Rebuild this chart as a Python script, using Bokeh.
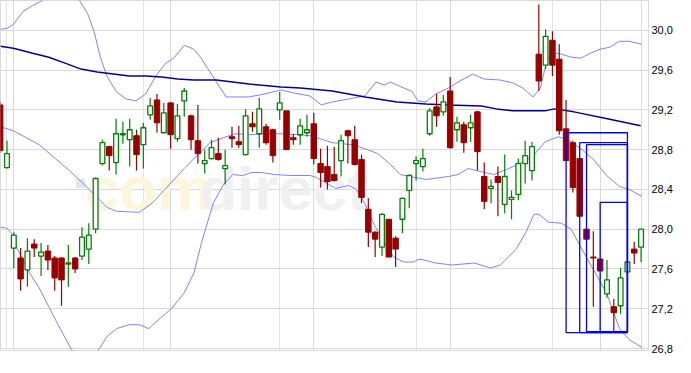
from bokeh.plotting import figure
from bokeh.models import Range1d, FixedTicker, Grid, CustomJSTickFormatter, ColumnDataSource
from bokeh.core.properties import value
from bokeh.embed import file_html
from bokeh.resources import INLINE

# ---------------- data ----------------
idx = list(range(-1, 94))
opens = [29.25, 28.62, 27.81, 27.71, 27.59, 27.85, 27.73, 27.78, 27.71, 27.71,
         27.65, 27.71, 27.73, 27.80, 28.00, 28.66, 28.83, 28.67, 28.95, 28.90,
         28.94, 28.85, 29.15, 29.30, 28.97, 29.27, 28.91, 29.29, 29.14, 28.89,
         28.66, 28.71, 28.76, 28.61, 28.93, 28.88, 28.75, 29.06, 28.96, 29.03,
         29.00, 29.20, 29.19, 28.92, 28.95, 28.97, 29.06, 28.66, 28.63, 28.55,
         28.69, 28.99, 28.90, 28.70, 28.20, 27.97, 27.82, 28.10, 27.91, 28.10,
         28.39, 28.66, 28.63, 28.96, 29.23, 29.18, 29.39, 29.00, 29.05, 29.02,
         29.18, 28.53, 28.41, 28.53, 28.25, 28.30, 28.35, 28.66, 28.59, 29.76,
         29.65, 29.90, 29.71, 29.01, 28.87, 28.71, 28.00, 27.72, 27.70, 27.35,
         27.22, 27.23, 27.57, 27.80, 27.82]
highs = [29.28, 28.89, 27.97, 27.81, 27.91, 27.90, 27.86, 27.84, 27.73, 27.72,
         27.84, 27.72, 28.02, 28.06, 28.52, 28.90, 28.84, 29.11, 29.08, 29.11,
         29.00, 29.07, 29.32, 29.36, 29.27, 29.28, 29.26, 29.42, 29.15, 29.25,
         28.80, 28.90, 28.92, 28.80, 29.03, 29.04, 29.21, 29.18, 29.32, 29.06,
         29.01, 29.38, 29.19, 28.96, 29.11, 29.15, 29.17, 28.81, 28.84, 28.83,
         28.95, 29.00, 29.04, 28.75, 28.31, 27.98, 28.16, 28.10, 27.93, 28.32,
         28.55, 28.73, 28.81, 29.22, 29.36, 29.35, 29.53, 29.13, 29.08, 29.15,
         29.19, 28.67, 28.50, 28.63, 28.75, 28.39, 28.71, 28.89, 28.88, 30.26,
         30.01, 29.99, 29.86, 29.30, 28.89, 28.71, 28.01, 27.98, 27.70, 27.69,
         27.30, 27.61, 27.68, 27.87, 28.00]
lows = [28.77, 28.61, 27.61, 27.38, 27.42, 27.72, 27.53, 27.59, 27.38, 27.23,
        27.42, 27.56, 27.69, 27.65, 27.96, 28.64, 28.59, 28.55, 28.86, 28.63,
        28.59, 28.61, 29.10, 28.97, 28.97, 28.81, 28.88, 29.13, 28.80, 28.66,
        28.56, 28.70, 28.69, 28.45, 28.82, 28.82, 28.74, 28.98, 28.82, 28.85,
        28.67, 29.10, 28.80, 28.85, 28.85, 28.93, 28.65, 28.42, 28.40, 28.48,
        28.53, 28.66, 28.64, 28.26, 27.82, 27.72, 27.73, 27.72, 27.62, 27.96,
        28.21, 28.49, 28.58, 28.94, 29.03, 29.14, 28.81, 28.88, 28.77, 28.88,
        28.59, 28.20, 28.26, 28.13, 28.16, 28.10, 28.29, 28.46, 28.49, 29.39,
        29.61, 29.54, 28.95, 28.69, 28.37, 28.13, 27.90, 27.22, 27.58, 27.31,
        26.97, 27.15, 27.57, 27.65, 27.67]
closes = [28.79, 28.76, 27.94, 27.50, 27.78, 27.81, 27.77, 27.69, 27.51, 27.49,
          27.66, 27.60, 27.92, 27.94, 28.51, 28.87, 28.74, 28.96, 28.96, 29.00,
          28.75, 29.02, 29.24, 29.07, 29.17, 28.95, 29.14, 29.39, 28.90, 28.76,
          28.69, 28.82, 28.70, 28.64, 28.91, 28.85, 29.14, 29.03, 29.21, 28.87,
          28.74, 29.27, 28.80, 28.90, 29.04, 29.00, 28.71, 28.57, 28.48, 28.49,
          28.89, 28.94, 28.65, 28.32, 27.97, 27.90, 28.15, 27.72, 27.80, 28.31,
          28.54, 28.69, 28.71, 29.19, 29.14, 29.28, 28.82, 29.07, 28.87, 29.07,
          28.78, 28.28, 28.43, 28.47, 28.53, 28.32, 28.66, 28.74, 28.83, 29.49,
          29.94, 29.65, 28.99, 28.69, 28.42, 28.13, 27.90, 27.71, 27.58, 27.49,
          27.16, 27.51, 27.67, 27.76, 28.00]

# Bollinger upper band (index, price)
upper_x = [-0.95, 0.0, 0.94, 2.35, 3.77, 5.19, 7.84, 10.64, 11.82, 12.77, 13.70, 14.65,
           16.07, 17.49, 18.91, 20.33, 21.74, 23.16, 24.58, 26.00, 27.42, 28.37, 30.72,
           32.14, 35.46, 37.82, 40.18, 42.07, 44.44, 46.10, 47.74, 50.11, 52.48, 54.13,
           55.32, 56.26, 58.16, 59.33, 60.28, 61.46, 62.88, 64.77, 66.67, 68.31, 69.97,
           72.34, 74.23, 75.65, 77.16, 78.24, 79.09, 79.90, 81.32, 82.74, 84.16, 85.57,
           86.99, 88.41, 89.83, 91.25, 93.13]
upper_y = [30.01, 30.02, 30.06, 30.19, 30.25, 30.30, 30.41, 30.30, 30.17, 29.99, 29.73, 29.54,
           29.38, 29.31, 29.29, 29.36, 29.53, 29.66, 29.73, 29.85, 29.81, 29.73, 29.48,
           29.33, 29.33, 29.36, 29.40, 29.37, 29.34, 29.25, 29.28, 29.31, 29.34, 29.48,
           29.45, 29.48, 29.42, 29.39, 29.29, 29.28, 29.36, 29.42, 29.50, 29.56, 29.51,
           29.50, 29.47, 29.42, 29.33, 29.42, 29.67, 29.78, 29.76, 29.73, 29.72, 29.77,
           29.81, 29.83, 29.89, 29.89, 29.86]

# Bollinger middle band (20-day average)
mid_x = [-0.95, 0.94, 4.72, 7.09, 8.98, 10.87, 12.77, 14.65, 16.07, 19.38, 21.28, 23.16,
         25.05, 26.00, 27.42, 29.79, 32.14, 33.56, 35.46, 37.82, 40.18, 42.55, 44.44,
         47.74, 50.58, 52.48, 54.37, 56.26, 57.67, 59.09, 61.46, 64.77, 66.18, 67.60,
         69.50, 71.39, 73.28, 75.18, 77.06, 78.95, 80.85, 82.27, 84.16, 86.04, 87.94,
         89.83, 91.25, 93.13]
mid_y = [29.03, 28.99, 28.85, 28.71, 28.60, 28.48, 28.35, 28.22, 28.18, 28.17, 28.26, 28.40,
         28.54, 28.61, 28.71, 28.87, 28.93, 28.96, 28.95, 28.96, 28.96, 28.95, 28.94,
         28.87, 28.85, 28.81, 28.76, 28.65, 28.55, 28.53, 28.50, 28.53, 28.55, 28.61,
         28.58, 28.55, 28.60, 28.66, 28.73, 28.88, 28.93, 28.90, 28.81, 28.70, 28.54,
         28.43, 28.40, 28.33]

# Bollinger lower band
lower_x = [-0.95, 0.0, 0.94, 1.32, 3.30, 4.72, 6.14, 7.56, 9.45, 11.39, 13.48, 14.65, 16.07,
           17.96, 19.38, 20.79, 22.21, 24.11, 26.00, 27.42, 28.55, 30.26, 31.67, 33.09,
           34.51, 35.93, 37.35, 39.23, 41.60, 44.44, 45.39, 48.23, 50.11, 51.25, 52.48,
           53.90, 55.32, 56.74, 58.16, 59.57, 60.51, 62.88, 65.25, 68.55, 70.92, 72.34,
           74.70, 76.11, 77.30, 78.01, 79.43, 81.32, 82.74, 84.16, 86.04, 87.94, 89.83,
           91.25, 93.13]
lower_y = [28.02, 28.01, 27.94, 27.83, 27.56, 27.41, 27.22, 27.03, 26.79, 26.67, 26.79, 26.92, 27.00,
           27.04, 27.04, 27.00, 27.09, 27.20, 27.36, 27.56, 27.87, 28.26, 28.44, 28.55,
           28.54, 28.57, 28.57, 28.55, 28.54, 28.54, 28.52, 28.41, 28.44, 28.40, 28.26,
           28.04, 27.87, 27.72, 27.67, 27.67, 27.70, 27.66, 27.64, 27.66, 27.61, 27.64,
           27.80, 27.97, 28.15, 28.15, 28.07, 28.06, 28.00, 27.82, 27.59, 27.36, 27.00,
           26.89, 26.81]

# long moving average
ma_x = [-0.95, 0.94, 3.77, 6.14, 8.51, 10.87, 13.23, 15.60, 17.96, 20.33, 22.70, 25.05,
        27.42, 30.68, 35.50, 40.18, 43.02, 47.70, 52.52, 57.21, 61.46, 64.72, 69.55,
        71.82, 74.23, 78.91, 80.33, 83.16, 88.04, 92.95]
ma_y = [29.84, 29.82, 29.77, 29.73, 29.67, 29.61, 29.58, 29.56, 29.54, 29.54, 29.53, 29.51,
        29.50, 29.50, 29.46, 29.43, 29.42, 29.39, 29.33, 29.28, 29.26, 29.25, 29.24,
        29.21, 29.19, 29.19, 29.21, 29.18, 29.11, 29.04]

# blue boxes (start index, end index, top, bottom)
box_start = [82, 84, 85, 87]
box_end = [91, 91, 91, 91]
box_top = [28.97, 28.87, 28.85, 28.27]
box_bottom = [26.96, 26.96, 26.97, 26.97]

y_ticks = [26.8, 27.2, 27.6, 28.0, 28.4, 28.8, 29.2, 29.6, 30.0]
month_ticks = [1, 24, 45, 65, 87, 93]

# ---------------- styles ----------------
RED = "#990000"
GREEN = "#008000"
BAND = "#8080ff"
NAVY = "#000099"
BOX = "#0000ff"
GRID = "#d9d9d9"

p = figure(width=675, height=357, output_backend="svg", toolbar_location=None,
           x_range=Range1d(-0.95, 94.09), y_range=Range1d(26.78, 30.30),
           x_axis_location=None, y_axis_location="right",
           min_border_left=0, min_border_top=0, min_border_bottom=7, min_border_right=0)
p.background_fill_color = "white"
p.border_fill_color = "white"
p.outline_line_color = GRID

p.yaxis.ticker = FixedTicker(ticks=y_ticks)
p.yaxis.formatter = CustomJSTickFormatter(code="return tick.toFixed(1).replace('.', ',');")
p.yaxis.axis_line_color = None
p.yaxis.major_tick_line_color = None
p.yaxis.minor_tick_line_color = None
p.yaxis.major_tick_out = 0
p.yaxis.major_label_standoff = 3
p.yaxis.major_label_text_font = "Liberation Sans"
p.yaxis.major_label_text_font_size = "11px"
p.yaxis.major_label_text_color = "black"
p.ygrid.grid_line_color = GRID
p.add_layout(Grid(dimension=0, ticker=FixedTicker(ticks=month_ticks), grid_line_color=GRID))

# watermark
wm_x_com, wm_x_direct, wm_y = 11.4, 28.2, 28.41
p.rect(x=[10.8], y=[28.46], width=1.4, height=0.095, fill_color="#e6e6e6", line_color=None)
p.text(x=[wm_x_com], y=[wm_y], text=["com"], text_font=value("Liberation Sans"),
       text_font_style="bold", text_font_size="62px", text_color="#fff5da",
       text_baseline="alphabetic")
p.text(x=[wm_x_direct], y=[wm_y], text=["direct"], text_font=value("Liberation Sans"),
       text_font_style="bold", text_font_size="62px", text_color="#f0f0f0",
       text_baseline="alphabetic")

# indicator lines
p.line(upper_x, upper_y, line_color=BAND, line_width=1)
p.line(mid_x, mid_y, line_color=BAND, line_width=1)
p.line(lower_x, lower_y, line_color=BAND, line_width=1)
p.line(ma_x, ma_y, line_color=NAVY, line_width=1.5)

# candles
up = dict(x=[], o=[], h=[], l=[], c=[])
dn = dict(x=[], o=[], h=[], l=[], c=[])
for i, o, h, l, c in zip(idx, opens, highs, lows, closes):
    d = up if c >= o else dn
    d["x"].append(i); d["o"].append(o); d["h"].append(h); d["l"].append(l); d["c"].append(c)
su = ColumnDataSource(up)
sd = ColumnDataSource(dn)
p.segment(x0="x", y0="l", x1="x", y1="h", source=sd, line_color=RED, line_width=1.2)
p.segment(x0="x", y0="l", x1="x", y1="h", source=su, line_color=GREEN, line_width=1.2)
p.vbar(x="x", width=0.8, top="o", bottom="c", source=sd, fill_color=RED, line_color=RED, line_width=1)
p.vbar(x="x", width=0.7, top="c", bottom="o", source=su, fill_color="white", line_color=GREEN, line_width=1.3)

# boxes
p.quad(left=box_start, right=box_end, top=box_top, bottom=box_bottom,
       fill_alpha=0, line_color=BOX, line_width=1.3)

open("out.html", "w").write(file_html(p, INLINE))
